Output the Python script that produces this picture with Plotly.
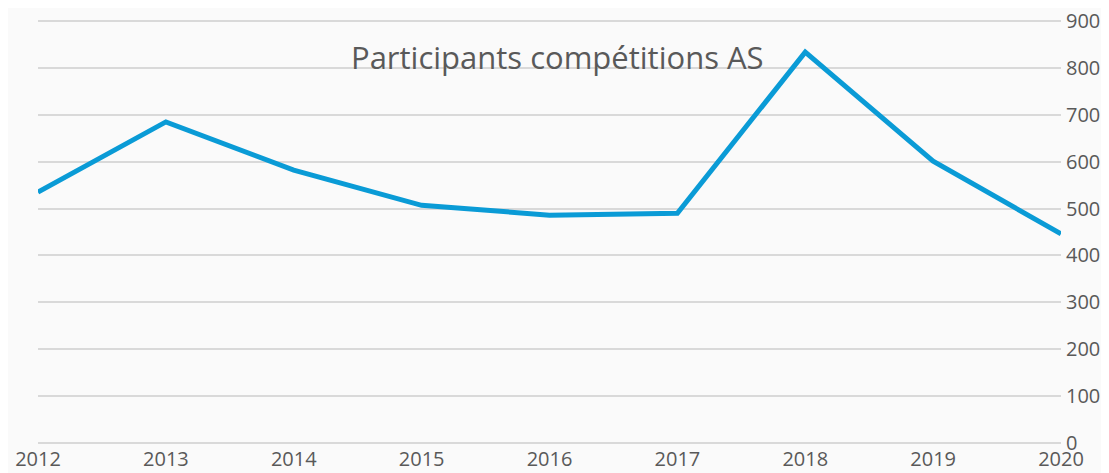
import plotly.graph_objects as go

years = [2012, 2013, 2014, 2015, 2016, 2017, 2018, 2019, 2020]
participants = [535, 685, 582, 507, 486, 490, 834, 601, 446]
y_ticks = [0, 100, 200, 300, 400, 500, 600, 700, 800, 900]
title_text = "Participants compétitions AS"

fig = go.Figure()
fig.add_trace(go.Scatter(
    x=years, y=participants, mode="lines",
    line=dict(color="#0a9bd6", width=5),
    hoverinfo="x+y",
))

# page body has an 8px default margin, so the figure is offset by (8, 8)
fig.update_layout(
    width=1101, height=465,
    margin=dict(l=30, r=48, t=12, b=29, autoexpand=False),
    paper_bgcolor="#fafafa",
    plot_bgcolor="#fafafa",
    showlegend=False,
    font=dict(family="Open Sans, Lato, sans-serif", color="#595959", size=20),
    annotations=[dict(
        text=title_text, x=2016.06, xref="x", y=823, yref="y",
        xanchor="center", yanchor="middle", showarrow=False,
        font=dict(size=31, color="#595959", family="Open Sans, sans-serif"),
    )],
)
fig.update_xaxes(
    range=[2012, 2020], tickmode="array", tickvals=years,
    ticktext=[str(y) for y in years], automargin=False,
    showgrid=False, zeroline=False, showline=False,
    ticks="", ticklabelstandoff=1, ticklabeloverflow="allow",
    tickfont=dict(size=20, color="#595959"),
)
fig.update_yaxes(
    range=[-2.5, 902.5], side="right", tickmode="array", tickvals=y_ticks,
    automargin=False, ticklabeloverflow="allow",
    showgrid=True, gridcolor="#d9d9d9", gridwidth=1.5,
    zeroline=False, showline=False, ticks="", ticklabelstandoff=4,
    tickfont=dict(size=20, color="#595959"),
)

fig.write_html("out.html")
